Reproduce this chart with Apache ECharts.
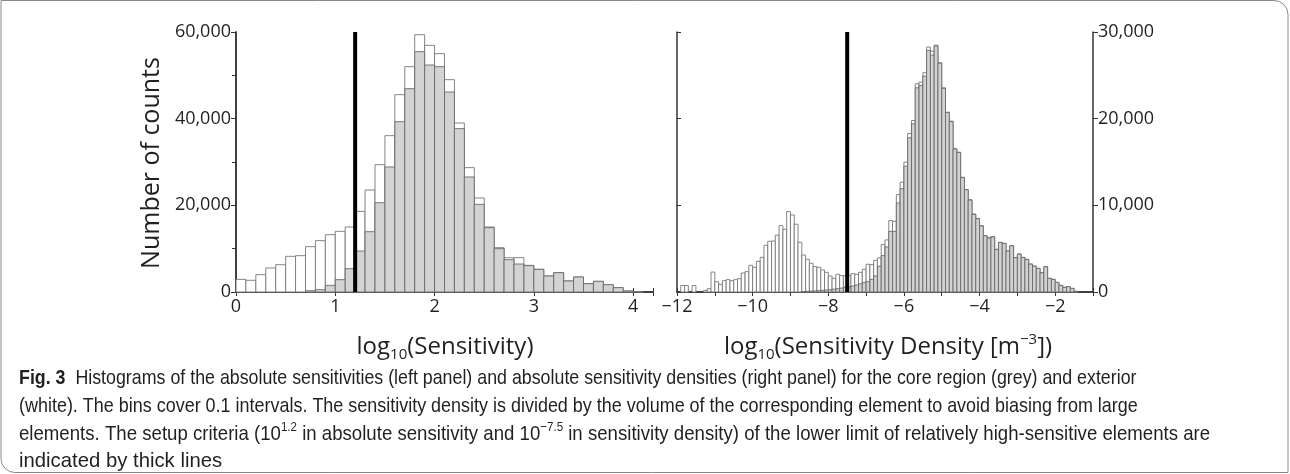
<!DOCTYPE html>
<html>
<head>
<meta charset="utf-8">
<script src="https://cdn.jsdelivr.net/npm/echarts@6/dist/echarts.min.js"></script>
<style>
  html, body { margin: 0; padding: 0; background: #fff; }
  #chart { width: 1290px; height: 474px; }
</style>
</head>
<body>
<div id="chart"></div>
<script>
// bins are 0.1 wide, counted from the start value of each panel
const binWidth = 0.1;

// left panel: log10(Sensitivity), first bin starts at 0
const sensStart = 0;
const sensExterior = [2920, 2700, 4000, 5540, 6300, 8230, 8380, 10460, 11850, 13230,
  14000, 15000, 18600, 23540, 29380, 36080, 45540, 52000, 59380, 56920,
  55000, 49000, 39000, 28700, 21700, 15000, 10230, 7920, 7920, 6150,
  5230, 3690, 4460, 2540, 3460, 1920, 2460, 1690, 1000, 230, 80, 0];
const sensCore = [0, 0, 0, 0, 0, 0, 0, 300, 540, 1540,
  2850, 5380, 9460, 13920, 20600, 28850, 39300, 46920, 55460, 52380,
  52000, 46150, 37700, 26540, 20230, 14850, 10000, 7460, 6460, 6080,
  5230, 3690, 4460, 2540, 3460, 1920, 2460, 1690, 1000, 230, 80, 0];
const sensCut = 1.2;

// right panel: log10(Sensitivity Density), first bin starts at -12
const densStart = -12;
const densExterior = [0, 750, 750, 0, 750, 0, 0, 190, 385, 2300,
  1190, 885, 1310, 1425, 1310, 1425, 1540, 2190, 2350, 3080,
  2850, 3540, 4000, 5390, 5850, 5890, 6550, 7660, 7240, 9280,
  8890, 7820, 5740, 4270, 3770, 3310, 2930, 2850, 2540, 2270,
  1850, 1580, 2040, 1890, 1890, 1890, 2120, 2040, 2270, 2620,
  3200, 3160, 3650, 3930, 5470, 6010, 8240, 8160, 11240, 12670,
  14980, 18290, 19790, 24030, 24220, 25300, 28260, 27790, 28490, 26450,
  23560, 20750, 19710, 16550, 16130, 13240, 11820, 10660, 9000, 8490,
  7660, 6510, 6280, 6390, 4930, 5740, 5620, 4740, 5350, 3970,
  4390, 4000, 3770, 3230, 3000, 2730, 2230, 2930, 1580, 1460,
  1120, 770, 540, 620, 420, 80];
const densCore = [0, 0, 0, 0, 0, 0, 0, 0, 0, 0,
  0, 0, 0, 0, 0, 0, 0, 0, 0, 0,
  0, 0, 0, 0, 0, 0, 0, 0, 0, 0,
  0, 0, 0, 50, 80, 100, 120, 150, 190, 230,
  260, 330, 380, 450, 560, 620, 700, 800, 950, 1080,
  1190, 1460, 1850, 2970, 4200, 5200, 7000, 7000, 10270, 11930,
  14510, 17790, 19400, 23560, 23830, 24910, 27870, 27330, 28370, 26400,
  23500, 20700, 19650, 16500, 16100, 13200, 11800, 10600, 8950, 8450,
  7620, 6480, 6250, 6350, 4900, 5700, 5600, 4720, 5320, 3950,
  4370, 3980, 3750, 3210, 2980, 2720, 2220, 2900, 1570, 1450,
  1110, 760, 535, 610, 415, 80];
const densCut = -7.5;

const font = "'Open Sans', 'Liberation Sans', sans-serif";
const ink = '#231f20';

function binData(start, values) {
  return values.map((v, i) => [
    +(start + i * binWidth).toFixed(2),
    +(start + (i + 1) * binWidth).toFixed(2),
    v
  ]);
}

function histItem(fill, stroke) {
  return function (params, api) {
    const v = api.value(2);
    if (!v) return;
    const p0 = api.coord([api.value(0), v]);
    const p1 = api.coord([api.value(1), 0]);
    return {
      type: 'rect',
      shape: { x: p0[0], y: p0[1], width: p1[0] - p0[0], height: p1[1] - p0[1] },
      style: { fill: fill, stroke: stroke, lineWidth: 0.9 }
    };
  };
}

function histSeries(idx, start, values, fill, stroke, z) {
  return {
    type: 'custom',
    xAxisIndex: idx * 2,
    yAxisIndex: idx * 2,
    renderItem: histItem(fill, stroke),
    encode: { x: [0, 1], y: 2 },
    data: binData(start, values),
    z: z,
    silent: true
  };
}

function cutSeries(idx, x, top) {
  return {
    type: 'line',
    xAxisIndex: idx * 2,
    yAxisIndex: idx * 2,
    data: [[x, 0], [x, top]],
    symbol: 'none',
    lineStyle: { color: '#000', width: 4 },
    z: 10,
    silent: true
  };
}

const fmtThousands = v => v.toLocaleString('en-US');
const axisLineStyle = { show: true, lineStyle: { color: '#333', width: 1.5 } };

function xAxes(grid, min, max, labelFmt) {
  return [
    {
      type: 'value', gridIndex: grid, min: min, max: max, interval: 1,
      axisLine: axisLineStyle,
      axisTick: { inside: true, length: 4, lineStyle: { color: '#333' } },
      axisLabel: { formatter: labelFmt, fontSize: 18, fontFamily: font, color: ink, margin: 6 },
      splitLine: { show: false }
    },
    {
      type: 'value', gridIndex: grid, min: min, max: max, interval: 1, position: 'top',
      axisLine: axisLineStyle,
      axisTick: { inside: true, length: 4, lineStyle: { color: '#333' } },
      axisLabel: { show: false },
      splitLine: { show: false }
    }
  ];
}

function yAxes(grid, max, interval, labelSide) {
  const labelled = {
    type: 'value', gridIndex: grid, min: 0, max: max, interval: interval,
    position: labelSide,
    axisLine: axisLineStyle,
    axisTick: { inside: false, length: 5, lineStyle: { color: '#333' } },
    minorTick: { show: labelSide === 'left', splitNumber: 2, length: 4, lineStyle: { color: '#333' } },
    axisLabel: { formatter: fmtThousands, fontSize: 18, fontFamily: font, color: ink, margin: 5 },
    splitLine: { show: false }
  };
  const plain = {
    type: 'value', gridIndex: grid, min: 0, max: max, interval: interval,
    position: labelSide === 'left' ? 'right' : 'left',
    axisLine: axisLineStyle,
    axisTick: { inside: true, length: 4, lineStyle: { color: '#333' } },
    axisLabel: { show: false },
    splitLine: { show: false }
  };
  return [labelled, plain];
}

const leftX = xAxes(0, 0, 4.2, v => Number.isInteger(v) ? String(v) : '');
const rightX = xAxes(1, -12, -1, v => (Number.isInteger(v) && v % 2 === 0) ? String(v).replace('-', '\u2212') : '');
const leftY = yAxes(0, 60000, 20000, 'left');
const rightY = yAxes(1, 30000, 10000, 'right');

const capFont = "'Liberation Sans', 'Open Sans', sans-serif";
const capSize = 21;
const capRich = {
  b: { fontFamily: capFont, fontSize: capSize, fontWeight: 'bold', fill: ink, lineHeight: 26 },
  n: { fontFamily: capFont, fontSize: capSize, fill: ink, lineHeight: 26 },
  sup: { fontFamily: capFont, fontSize: 13, fill: ink, lineHeight: 15, verticalAlign: 'top' }
};
const captionLines = [
  '{b|Fig. 3}{n|  Histograms of the absolute sensitivities (left panel) and absolute sensitivity densities (right panel) for the core region (grey) and exterior}',
  '{n|(white). The bins cover 0.1 intervals. The sensitivity density is divided by the volume of the corresponding element to avoid biasing from large}',
  '{n|elements. The setup criteria (10}{sup|1.2}{n| in absolute sensitivity and 10}{sup|\u22127.5}{n| in sensitivity density) of the lower limit of relatively high-sensitive elements are}',
  '{n|indicated by thick lines}'
];
const captionY = [378, 406, 434, 461];
const captionScale = [0.848, 0.855, 0.887, 0.967];

const titleRich = {
  n: { fontFamily: font, fontSize: 24, fill: ink, lineHeight: 30 },
  sub: { fontFamily: font, fontSize: 15, fill: ink, lineHeight: 16, verticalAlign: 'bottom' },
  sup: { fontFamily: font, fontSize: 15, fill: ink, lineHeight: 16, verticalAlign: 'top' }
};

const graphics = [
  {
    type: 'rect', silent: true,
    shape: { x: 1, y: 0.5, width: 1287, height: 472, r: [0, 14, 0, 14] },
    style: { fill: 'none', stroke: '#8a8a8a', lineWidth: 1 }
  },
  {
    type: 'text', x: 152, y: 163, rotation: Math.PI / 2,
    style: { text: 'Number of counts', fontFamily: font, fontSize: 25, fill: ink, align: 'center', verticalAlign: 'middle' }
  },
  {
    type: 'text', x: 445, y: 347,
    style: { text: '{n|log}{sub|10}{n|(Sensitivity)}', rich: titleRich, align: 'center', verticalAlign: 'middle' }
  },
  {
    type: 'text', x: 888, y: 347,
    style: { text: '{n|log}{sub|10}{n|(Sensitivity Density [m}{sup|\u22123}{n|])}', rich: titleRich, align: 'center', verticalAlign: 'middle' }
  }
];
captionLines.forEach((line, i) => {
  graphics.push({
    type: 'text', x: 19, y: captionY[i], scaleX: captionScale[i],
    style: { text: line, rich: capRich, align: 'left', verticalAlign: 'middle' }
  });
});

const chart = echarts.init(document.getElementById('chart'));
chart.setOption({
  animation: false,
  backgroundColor: '#fff',
  grid: [
    { left: 236, top: 32, width: 417, height: 260 },
    { left: 677, top: 32, width: 416, height: 260 }
  ],
  xAxis: [...leftX, ...rightX],
  yAxis: [...leftY, ...rightY],
  graphic: graphics,
  series: [
    histSeries(0, sensStart, sensExterior, '#ffffff', '#777777', 2),
    histSeries(0, sensStart, sensCore, '#d3d3d3', '#6a6a6a', 3),
    cutSeries(0, sensCut, 60000),
    histSeries(1, densStart, densExterior, '#ffffff', '#777777', 2),
    histSeries(1, densStart, densCore, '#d3d3d3', '#6a6a6a', 3),
    cutSeries(1, densCut, 30000)
  ]
});
</script>
</body>
</html>
